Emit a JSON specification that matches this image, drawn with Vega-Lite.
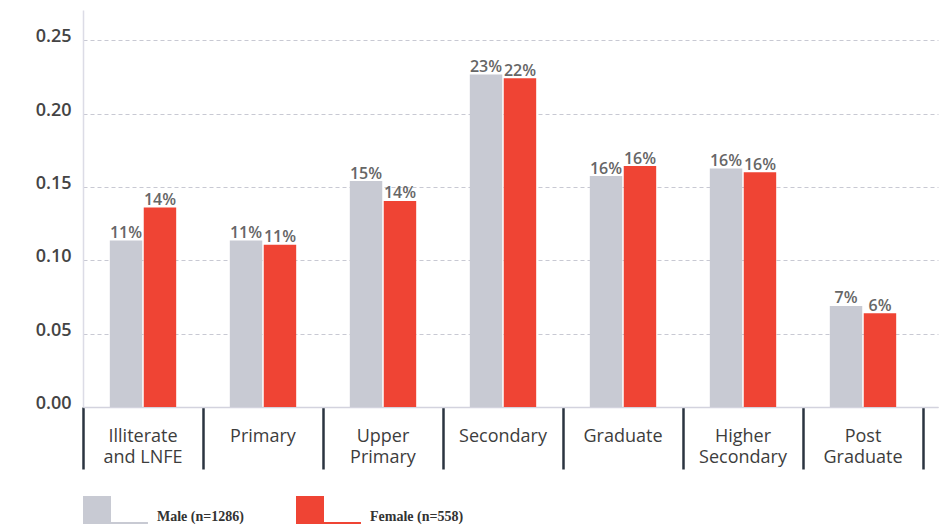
{
  "$schema": "https://vega.github.io/schema/vega-lite/v6.json",
  "width": 855,
  "height": 397,
  "autosize": {"type": "none"},
  "padding": {"left": 83, "top": 10, "right": 1, "bottom": 121},
  "background": "white",
  "config": {"view": {"stroke": null}, "font": "Open Sans"},
  "data": {
    "values": [
      {"level": "Illiterate and LNFE", "sex": "Male (n=1286)", "value": 0.1136},
      {"level": "Illiterate and LNFE", "sex": "Female (n=558)", "value": 0.136},
      {"level": "Primary", "sex": "Male (n=1286)", "value": 0.1136},
      {"level": "Primary", "sex": "Female (n=558)", "value": 0.1107},
      {"level": "Upper Primary", "sex": "Male (n=1286)", "value": 0.1541},
      {"level": "Upper Primary", "sex": "Female (n=558)", "value": 0.1405},
      {"level": "Secondary", "sex": "Male (n=1286)", "value": 0.2268},
      {"level": "Secondary", "sex": "Female (n=558)", "value": 0.2241},
      {"level": "Graduate", "sex": "Male (n=1286)", "value": 0.1575},
      {"level": "Graduate", "sex": "Female (n=558)", "value": 0.1643},
      {"level": "Higher Secondary", "sex": "Male (n=1286)", "value": 0.1627},
      {"level": "Higher Secondary", "sex": "Female (n=558)", "value": 0.16},
      {"level": "Post Graduate", "sex": "Male (n=1286)", "value": 0.0689},
      {"level": "Post Graduate", "sex": "Female (n=558)", "value": 0.0639}
    ]
  },
  "encoding": {
    "x": {
      "field": "level",
      "type": "nominal",
      "sort": null,
      "title": null,
      "scale": {"paddingInner": 0, "paddingOuter": 0.0625, "align": 0},
      "axis": {
        "orient": "bottom",
        "bandPosition": 1,
        "tickExtra": true,
        "tickSize": 62,
        "tickWidth": 2.5,
        "tickColor": "#2b3440",
        "domainColor": "#d3d3de",
        "domainWidth": 1.5,
        "labelAngle": 0,
        "labelFont": "Open Sans",
        "labelFontSize": 18,
        "labelColor": "#3d3d3d",
        "labelPadding": -42,
        "labelLineHeight": 21.5,
        "labelBaseline": "top",
        "labelExpr": "isString(datum.value) && indexof(datum.value, ' ') > 0 ? [substring(datum.value, 0, indexof(datum.value, ' ')), substring(datum.value, indexof(datum.value, ' ') + 1)] : datum.label"
      }
    },
    "xOffset": {
      "field": "sex",
      "type": "nominal",
      "sort": ["Male (n=1286)", "Female (n=558)"],
      "scale": {"paddingInner": 0.044, "paddingOuter": 0.79}
    },
    "y": {
      "field": "value",
      "type": "quantitative",
      "title": null,
      "scale": {"domain": [0, 0.2707], "nice": false},
      "axis": {
        "values": [0, 0.05, 0.1, 0.15, 0.2, 0.25],
        "format": ".2f",
        "ticks": false,
        "domainColor": "#dcdce6",
        "domainWidth": 1.5,
        "grid": true,
        "gridDash": [4, 3],
        "gridColor": "#c8c9d3",
        "gridWidth": 1,
        "labelFont": "Open Sans",
        "labelFontSize": 18,
        "labelFontWeight": 600,
        "labelColor": "#444444",
        "labelPadding": 12,
        "labelBaseline": "alphabetic",
        "labelOffset": 1.5
      }
    }
  },
  "layer": [
    {
      "mark": {"type": "bar"},
      "encoding": {
        "color": {
          "field": "sex",
          "type": "nominal",
          "title": null,
          "scale": {"domain": ["Male (n=1286)", "Female (n=558)"], "range": ["#c8cad3", "#ef4434"]},
          "legend": {
            "orient": "none",
            "legendX": 0,
            "legendY": 486,
            "direction": "horizontal",
            "padding": 0,
            "symbolType": "M-1,-1H1V1H-1Z M1,0.857H3.64V1H1Z",
            "symbolSize": 784,
            "symbolStrokeWidth": 0,
            "symbolOpacity": 1,
            "labelFont": "Liberation Serif",
            "labelFontWeight": "bold",
            "labelFontSize": 14,
            "labelBaseline": "top",
            "labelColor": "#333333",
            "labelOffset": 46,
            "columnPadding": 52
          }
        }
      }
    },
    {
      "mark": {"type": "text", "baseline": "alphabetic", "dy": -2.5, "fontSize": 16, "fontWeight": 600, "color": "#666666", "font": "Open Sans"},
      "encoding": {
        "text": {"field": "value", "type": "quantitative", "format": ".0%"}
      }
    }
  ]
}
